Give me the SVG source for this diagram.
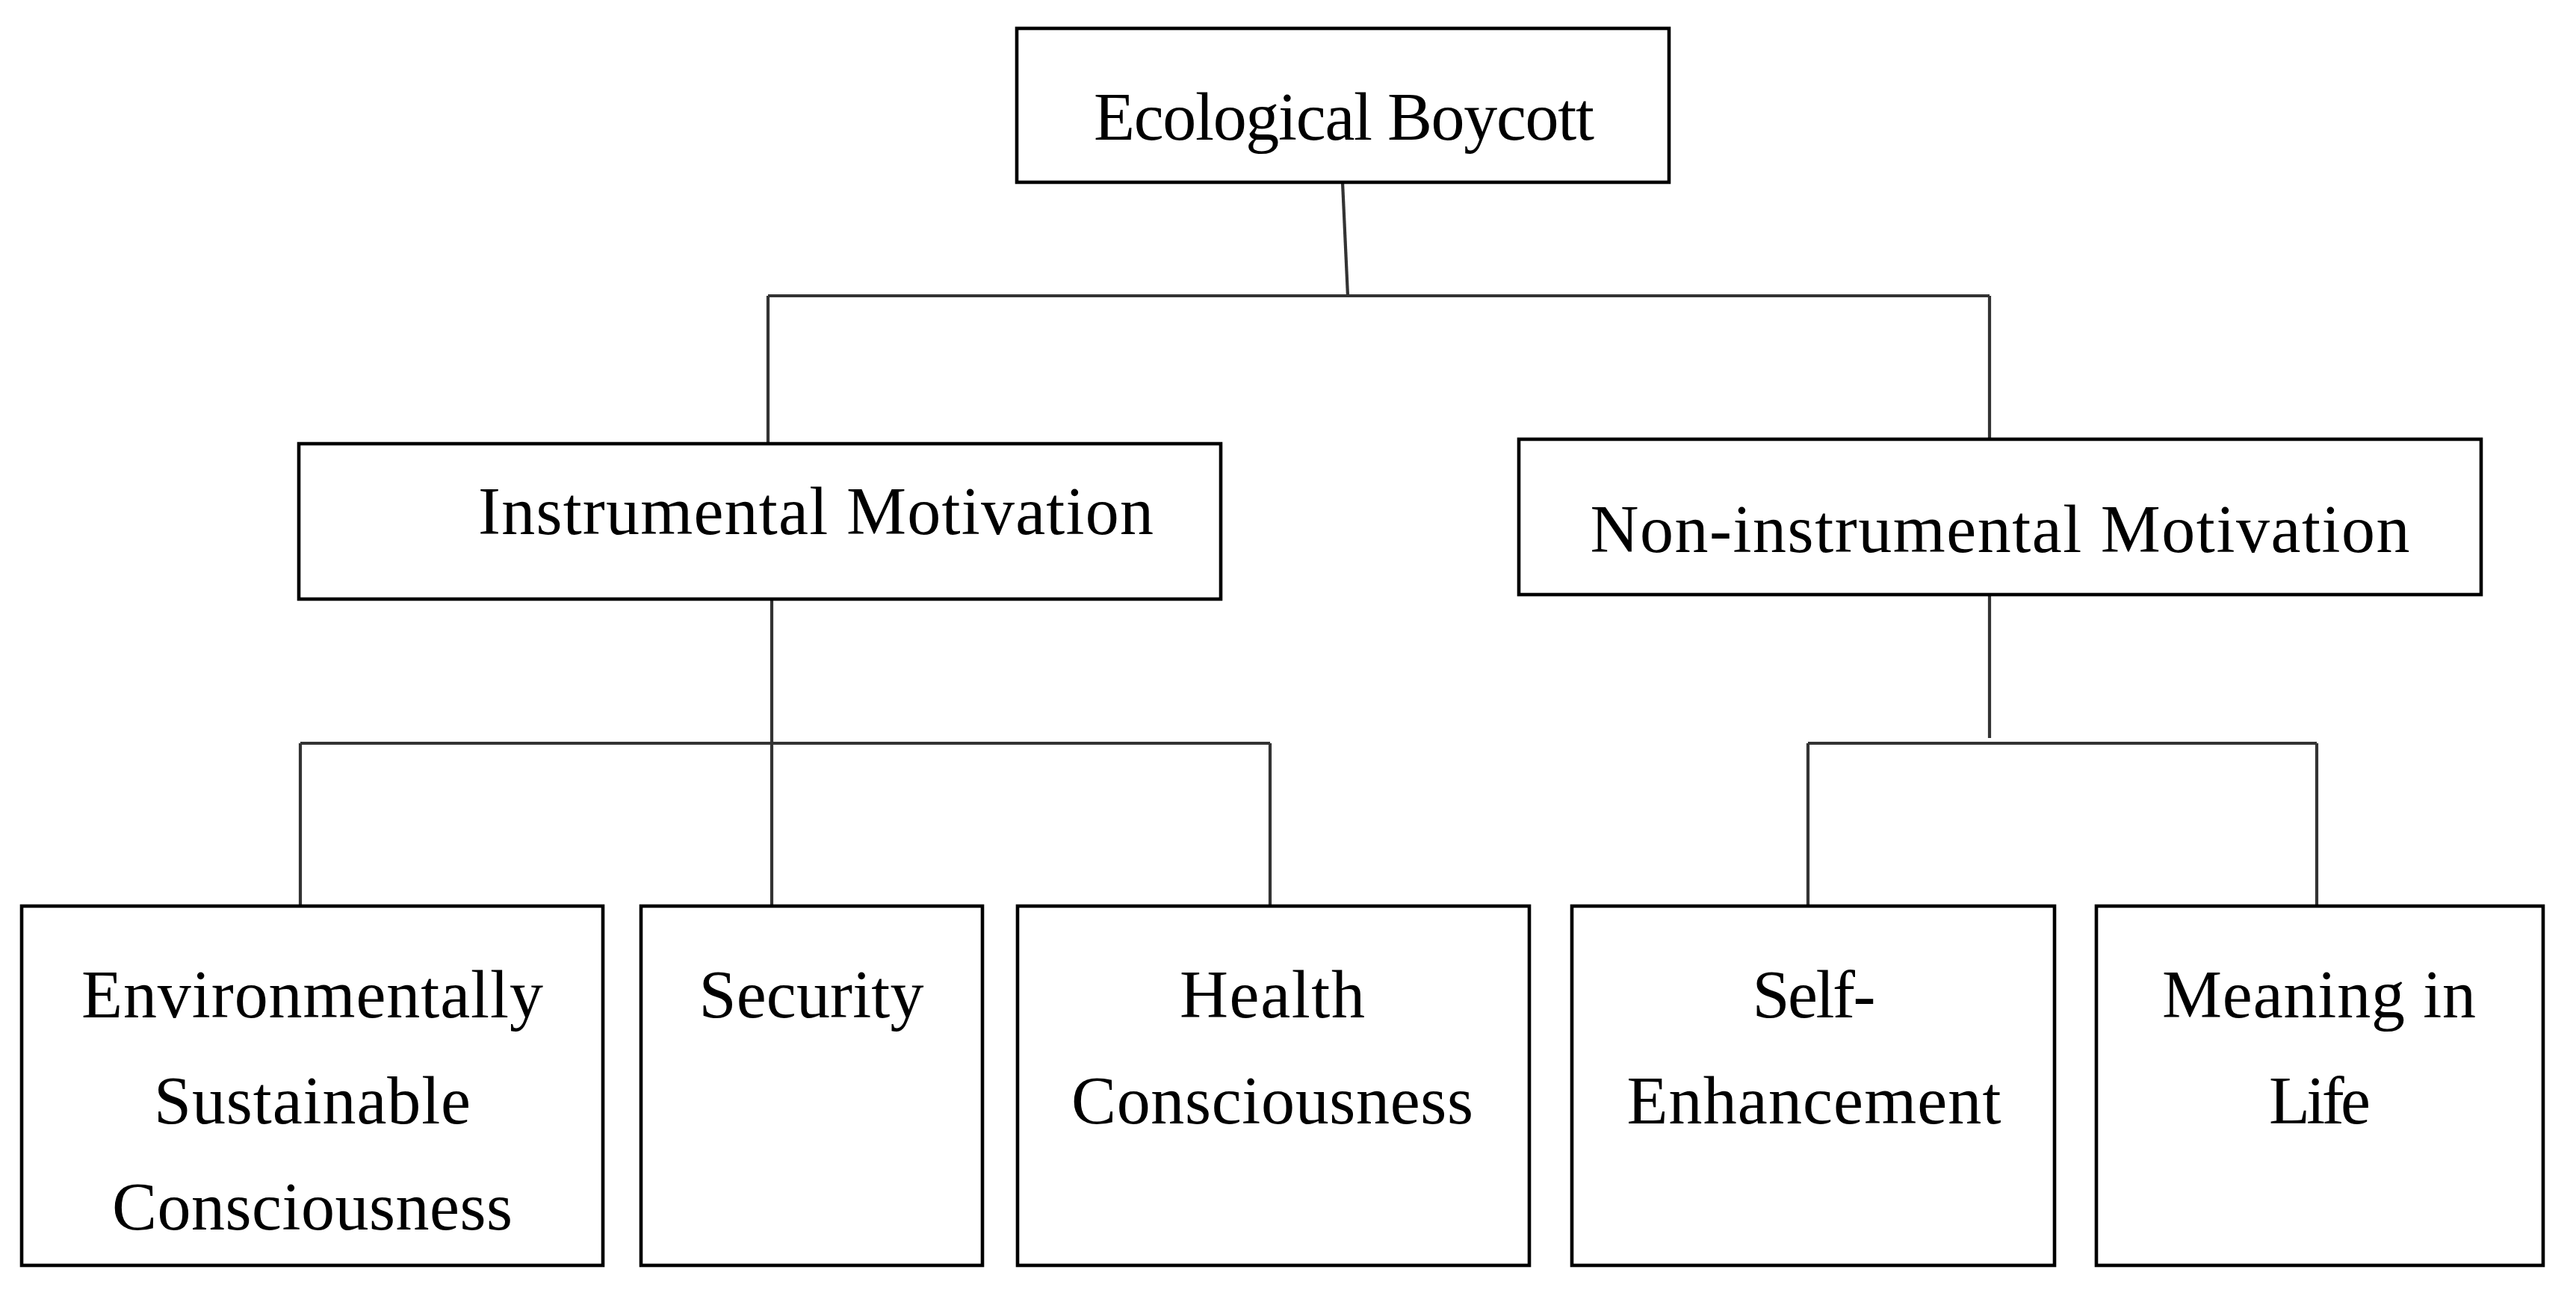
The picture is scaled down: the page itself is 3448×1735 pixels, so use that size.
<svg xmlns="http://www.w3.org/2000/svg" width="3448" height="1735" viewBox="0 0 3448 1735">
<style>
.box{fill:#ffffff;stroke:#000000;stroke-width:4.6}
.lbl{font-family:"Liberation Serif","Times New Roman",serif;font-size:90px;fill:#000000;text-anchor:middle}
.conn{fill:none;stroke:#333333;stroke-width:4.2;stroke-linecap:butt}
</style>
<rect width="3448" height="1735" fill="#ffffff"/>
<g id="connectors">
<line class="conn" x1="1797" y1="244" x2="1804" y2="396"/>
<line class="conn" x1="1028" y1="396" x2="2663" y2="396"/>
<line class="conn" x1="1028" y1="396" x2="1028" y2="594"/>
<line class="conn" x1="2663" y1="396" x2="2663" y2="588"/>
<line class="conn" x1="1033" y1="802" x2="1033" y2="1213"/>
<line class="conn" x1="402" y1="995" x2="1700" y2="995"/>
<line class="conn" x1="402" y1="995" x2="402" y2="1213"/>
<line class="conn" x1="1700" y1="995" x2="1700" y2="1213"/>
<line class="conn" x1="2663" y1="796" x2="2663" y2="988"/>
<line class="conn" x1="2420" y1="995" x2="3101" y2="995"/>
<line class="conn" x1="2420" y1="995" x2="2420" y2="1213"/>
<line class="conn" x1="3101" y1="995" x2="3101" y2="1213"/>
</g>
<g id="node-ecological-boycott">
<rect class="box" x="1361" y="38" width="873" height="206"/>
<text class="lbl" x="1799" y="187" textLength="670">Ecological Boycott</text>
</g>
<g id="node-instrumental">
<rect class="box" x="400" y="594" width="1234" height="208"/>
<text class="lbl" x="1092" y="715" textLength="904">Instrumental Motivation</text>
</g>
<g id="node-non-instrumental">
<rect class="box" x="2033" y="588" width="1288" height="208"/>
<text class="lbl" x="2677" y="739" textLength="1097">Non-instrumental Motivation</text>
</g>
<g id="node-environmental">
<rect class="box" x="29" y="1213" width="778" height="481"/>
<text class="lbl" x="418" y="1362" textLength="618">Environmentally</text>
<text class="lbl" x="418" y="1504" textLength="424">Sustainable</text>
<text class="lbl" x="418" y="1646" textLength="536">Consciousness</text>
</g>
<g id="node-security">
<rect class="box" x="858" y="1213" width="457" height="481"/>
<text class="lbl" x="1086" y="1362" textLength="301">Security</text>
</g>
<g id="node-health">
<rect class="box" x="1362" y="1213" width="685" height="481"/>
<text class="lbl" x="1703" y="1362" textLength="248">Health</text>
<text class="lbl" x="1703" y="1504" textLength="538">Consciousness</text>
</g>
<g id="node-self-enhancement">
<rect class="box" x="2104" y="1213" width="646" height="481"/>
<text class="lbl" x="2428" y="1362" textLength="165">Self-</text>
<text class="lbl" x="2428" y="1504" textLength="501">Enhancement</text>
</g>
<g id="node-meaning">
<rect class="box" x="2806" y="1213" width="598" height="481"/>
<text class="lbl" x="3104" y="1362" textLength="420">Meaning in</text>
<text class="lbl" x="3105" y="1504" textLength="136">Life</text>
</g>
</svg>
